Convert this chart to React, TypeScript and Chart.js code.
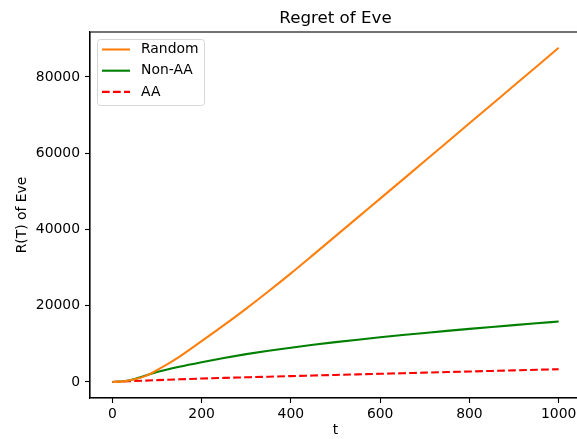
import React, { useEffect, useRef } from "react";
import { Chart, registerables } from "chart.js";

Chart.register(...registerables);

const chartTitle = "Regret of Eve";
const xLabel = "t";
const yLabel = "R(T) of Eve";

const tValues = [0, 25, 50, 75, 100, 150, 200, 250, 300, 350, 400, 450, 500, 550, 600, 650, 700, 750, 800, 850, 900, 950, 1000];
const randomRegret = [0, 150, 700, 1600, 3100, 6600, 10700, 14900, 19250, 23800, 28500, 33350, 38250, 43175, 48100, 53025, 57950, 62900, 67850, 72800, 77750, 82700, 87650];
const nonAARegret = [0, 200, 800, 1700, 2600, 4000, 5200, 6300, 7300, 8200, 9000, 9750, 10450, 11100, 11720, 12310, 12870, 13410, 13930, 14430, 14920, 15400, 15870];
const aaRegret = [0, 120, 250, 370, 480, 700, 900, 1070, 1230, 1390, 1550, 1700, 1850, 2000, 2150, 2300, 2450, 2600, 2750, 2900, 3050, 3200, 3350];

const xTickValues = [0, 200, 400, 600, 800, 1000];
const yTickValues = [0, 20000, 40000, 60000, 80000];

const FONT = "'DejaVu Sans', sans-serif";

const toPts = (arr: number[]) => arr.map((v, i) => ({ x: tValues[i], y: v }));

const framePlugin = {
  id: "frame",
  afterDraw(chart: any) {
    const { ctx, chartArea } = chart;
    ctx.save();
    ctx.strokeStyle = "#000";
    ctx.lineWidth = 1.1;
    ctx.strokeRect(chartArea.left, chartArea.top, chartArea.right - chartArea.left, chartArea.bottom - chartArea.top);
    ctx.fillStyle = "#000";
    ctx.font = `16.7px ${FONT}`;
    ctx.textAlign = "center";
    ctx.textBaseline = "alphabetic";
    ctx.fillText(chartTitle, (chartArea.left + chartArea.right) / 2, 22.5);
    ctx.restore();
  },
};

const legendPlugin = {
  id: "mplLegend",
  afterDraw(chart: any) {
    const { ctx } = chart;
    const ds = chart.data.datasets;
    const x0 = 97.5, y0 = 39.5, w = 107, h = 66, r = 3;
    ctx.save();
    ctx.beginPath();
    ctx.moveTo(x0 + r, y0);
    ctx.arcTo(x0 + w, y0, x0 + w, y0 + h, r);
    ctx.arcTo(x0 + w, y0 + h, x0, y0 + h, r);
    ctx.arcTo(x0, y0 + h, x0, y0, r);
    ctx.arcTo(x0, y0, x0 + w, y0, r);
    ctx.closePath();
    ctx.fillStyle = "rgba(255,255,255,0.8)";
    ctx.fill();
    ctx.strokeStyle = "#d6d6d6";
    ctx.lineWidth = 1;
    ctx.stroke();
    ds.forEach((d: any, i: number) => {
      const cy = 49.5 + i * 21.2;
      ctx.beginPath();
      ctx.setLineDash(d.borderDash || []);
      ctx.strokeStyle = d.borderColor;
      ctx.lineWidth = d.borderWidth;
      ctx.moveTo(102, cy);
      ctx.lineTo(130, cy);
      ctx.stroke();
      ctx.setLineDash([]);
      ctx.fillStyle = "#000";
      ctx.font = `13.9px ${FONT}`;
      ctx.textBaseline = "middle";
      ctx.textAlign = "left";
      ctx.fillText(d.label, 141, cy);
    });
    ctx.restore();
  },
};

export default function App() {
  const ref = useRef<HTMLCanvasElement | null>(null);
  useEffect(() => {
    if (!ref.current) return;
    const chart = new Chart(ref.current, {
      type: "line",
      data: {
        datasets: [
          { label: "Random", data: toPts(randomRegret), borderColor: "#ff7f0e", borderWidth: 2.1, pointRadius: 0, cubicInterpolationMode: "monotone" },
          { label: "Non-AA", data: toPts(nonAARegret), borderColor: "#008000", borderWidth: 2.1, pointRadius: 0, cubicInterpolationMode: "monotone" },
          { label: "AA", data: toPts(aaRegret), borderColor: "#ff0000", borderWidth: 2.1, borderDash: [7.7, 3.3], pointRadius: 0, cubicInterpolationMode: "monotone" },
        ],
      },
      options: {
        responsive: false,
        animation: false,
        layout: { padding: { top: 32, right: 19, left: 0, bottom: 0 } },
        plugins: {
          legend: { display: false },
          tooltip: { enabled: false },
          title: { display: false },
        },
        scales: {
          x: {
            type: "linear",
            min: -50,
            max: 1050,
            afterFit(scale: any) { scale.height = 41; },
            afterBuildTicks(scale: any) { scale.ticks = xTickValues.map((v) => ({ value: v })); },
            ticks: { color: "#000", padding: 3, maxRotation: 0, autoSkip: false, callback: (v: any) => String(v), font: { family: FONT, size: 13.9 } },
            grid: { drawOnChartArea: false, drawTicks: true, tickLength: 5, tickColor: "#000", tickWidth: 1.1 },
            border: { display: true, color: "#000", width: 1.1 },
            title: { display: true, text: xLabel, color: "#000", font: { family: FONT, size: 13.9 }, padding: { top: 0, bottom: 0 } },
          },
          y: {
            type: "linear",
            min: -4200,
            max: 91800,
            afterFit(scale: any) { scale.width = 90; },
            afterBuildTicks(scale: any) { scale.ticks = yTickValues.map((v) => ({ value: v })); },
            ticks: { color: "#000", padding: 5, autoSkip: false, callback: (v: any) => String(v), font: { family: FONT, size: 13.9 } },
            grid: { drawOnChartArea: false, drawTicks: true, tickLength: 5, tickColor: "#000", tickWidth: 1.1 },
            border: { display: true, color: "#000", width: 1.1 },
            title: { display: true, text: yLabel, color: "#000", font: { family: FONT, size: 13.9 }, padding: { top: 14, bottom: 0 } },
          },
        },
      },
      plugins: [framePlugin, legendPlugin],
    } as any);
    return () => chart.destroy();
  }, []);
  return (
    <div style={{ position: "absolute", left: 0, top: 0, width: 577, height: 439, overflow: "hidden", background: "#fff" }}>
      <canvas ref={ref} width={600} height={439} style={{ width: 600, height: 439, display: "block" }} />
    </div>
  );
}
